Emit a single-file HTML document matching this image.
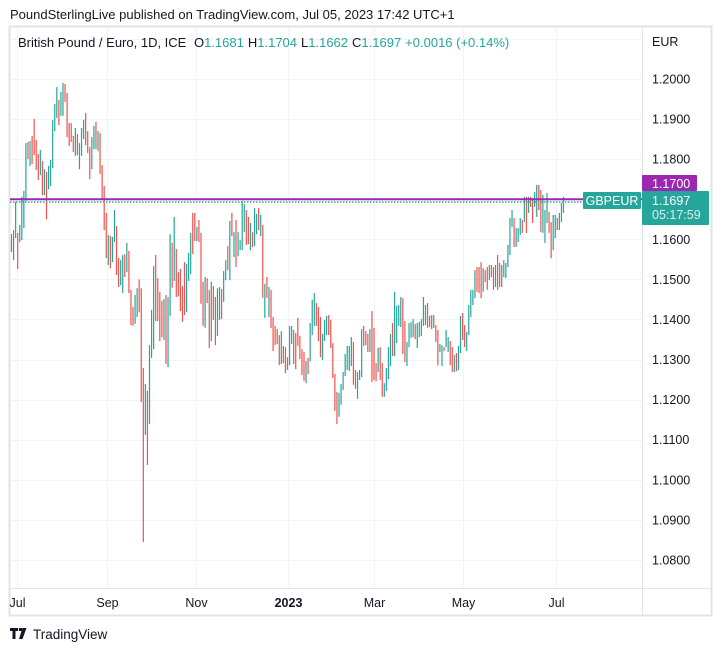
<!DOCTYPE html>
<html><head><meta charset="utf-8"><style>
html,body{margin:0;padding:0;background:#fff;}
body{width:722px;height:651px;overflow:hidden;font-family:"Liberation Sans",sans-serif;}
svg text{font-family:"Liberation Sans",sans-serif;}
</style></head><body>
<svg id="chart" width="722" height="651" viewBox="0 0 722 651" xmlns="http://www.w3.org/2000/svg">
<text x="10" y="19" font-size="13" fill="#131722">PoundSterlingLive published on TradingView.com, Jul 05, 2023 17:42 UTC+1</text>
<rect x="9.5" y="26.5" width="702" height="589" fill="none" stroke="#e0e3eb" stroke-width="2"/>
<g id="grid"></g>
<line x1="10" y1="588.5" x2="711" y2="588.5" stroke="#e0e3eb" stroke-width="1"/>
<line x1="642.5" y1="27" x2="642.5" y2="615" stroke="#e0e3eb" stroke-width="1"/>
<g id="bars"></g>
<g id="yticks"></g>
<g id="xticks"></g>
<text x="652" y="46" font-size="12.5" fill="#131722">EUR</text>
<text x="18" y="47" font-size="13" fill="#131722">British Pound / Euro, 1D, ICE <tspan dx="4">O</tspan><tspan fill="#26a69a">1.1681</tspan><tspan dx="4">H</tspan><tspan fill="#26a69a">1.1704</tspan><tspan dx="4">L</tspan><tspan fill="#26a69a">1.1662</tspan><tspan dx="4">C</tspan><tspan fill="#26a69a">1.1697</tspan><tspan dx="4" fill="#26a69a">+0.0016 (+0.14%)</tspan></text>
<g>
<path d="M10 628h8v3h-2.5v8h-3v-8H10z M19 628h3v3h-3z M22.5 628h4l-4 11h-3.5z" fill="#131722"/>
<text x="33" y="639" font-size="13.5" fill="#131722">TradingView</text>
</g>
</svg>
<script>
const H=[1.1613,1.1623,1.1693,1.1616,1.1636,1.1706,1.1721,1.1840,1.1843,1.1845,1.1858,1.1900,1.1848,1.1813,1.1823,1.1795,1.1775,1.1768,1.1783,1.1798,1.1898,1.1938,1.1980,1.1948,1.1968,1.1990,1.1988,1.1965,1.1890,1.1890,1.1858,1.1878,1.1863,1.1840,1.1878,1.1898,1.1915,1.1870,1.1830,1.1855,1.1883,1.1893,1.1870,1.1865,1.1785,1.1733,1.1666,1.1611,1.1608,1.1606,1.1673,1.1633,1.1553,1.1548,1.1561,1.1563,1.1591,1.1571,1.1474,1.1431,1.1461,1.1478,1.1500,1.1478,1.1279,1.1239,1.1222,1.1336,1.1424,1.1533,1.1561,1.1503,1.1469,1.1446,1.1451,1.1461,
1.1456,1.1613,1.1591,1.1656,1.1576,1.1518,1.1526,1.1483,1.1543,1.1538,1.1566,1.1616,1.1666,1.1666,1.1631,1.1648,1.1616,1.1494,1.1506,1.1503,1.1474,1.1494,1.1483,1.1456,1.1478,1.1481,1.1476,1.1521,1.1548,1.1583,1.1646,1.1666,1.1618,1.1648,1.1618,1.1598,1.1696,1.1688,1.1673,1.1656,1.1641,1.1618,1.1678,1.1663,1.1678,1.1661,1.1636,1.1489,1.1506,1.1481,1.1474,1.1406,1.1384,1.1376,1.1361,1.1371,1.1334,1.1331,1.1306,1.1384,1.1384,1.1374,1.1366,1.1404,1.1359,1.1326,1.1319,1.1296,1.1304,1.1391,1.1449,1.1466,1.1441,
1.1431,1.1406,1.1364,1.1399,1.1409,1.1411,1.1399,1.1341,1.1264,1.1219,1.1217,1.1239,1.1269,1.1314,1.1334,1.1334,1.1356,1.1344,1.1274,1.1269,1.1274,1.1376,1.1384,1.1371,1.1364,1.1376,1.1421,1.1379,1.1291,1.1329,1.1331,1.1291,1.1241,1.1279,1.1331,1.1364,1.1391,1.1469,1.1434,1.1436,1.1456,1.1453,1.1396,1.1344,1.1391,1.1394,1.1401,1.1389,1.1391,1.1394,1.1401,1.1456,1.1436,1.1441,1.1409,1.1411,1.1411,1.1386,1.1374,1.1339,1.1336,1.1331,1.1374,1.1356,1.1346,1.1331,1.1311,1.1316,1.1334,1.1409,1.1416,1.1386,1.1369,
1.1436,1.1474,1.1474,1.1523,1.1531,1.1531,1.1543,1.1528,1.1523,1.1531,1.1536,1.1536,1.1531,1.1536,1.1561,1.1541,1.1536,1.1548,1.1541,1.1586,1.1653,1.1673,1.1653,1.1628,1.1628,1.1653,1.1648,1.1706,1.1706,1.1706,1.1706,1.1703,1.1718,1.1736,1.1736,1.1723,1.1711,1.1673,1.1716,1.1668,1.1643,1.1661,1.1661,1.1653,1.1666,1.1691,1.1706];
const L=[1.1568,1.1548,1.1603,1.1526,1.1593,1.1598,1.1628,1.1696,1.1800,1.1783,1.1788,1.1810,1.1773,1.1748,1.1760,1.1710,1.1710,1.1650,1.1725,1.1733,1.1778,1.1870,1.1903,1.1885,1.1908,1.1908,1.1943,1.1855,1.1833,1.1843,1.1818,1.1808,1.1810,1.1775,1.1808,1.1850,1.1835,1.1815,1.1750,1.1775,1.1825,1.1825,1.1820,1.1763,1.1698,1.1623,1.1553,1.1536,1.1528,1.1543,1.1593,1.1511,1.1481,1.1486,1.1466,1.1506,1.1518,1.1466,1.1386,1.1384,1.1389,1.1406,1.1418,1.1194,1.0845,1.1112,1.1037,1.1139,1.1304,1.1326,1.1396,1.1396,1.1346,1.1356,1.1349,1.1289,
1.1281,1.1409,1.1479,1.1496,1.1456,1.1458,1.1421,1.1394,1.1411,1.1418,1.1496,1.1513,1.1563,1.1596,1.1596,1.1593,1.1439,1.1384,1.1379,1.1441,1.1329,1.1346,1.1399,1.1336,1.1359,1.1399,1.1401,1.1444,1.1498,1.1523,1.1498,1.1608,1.1556,1.1531,1.1558,1.1573,1.1573,1.1618,1.1586,1.1588,1.1573,1.1581,1.1583,1.1613,1.1623,1.1608,1.1454,1.1404,1.1454,1.1406,1.1379,1.1321,1.1336,1.1339,1.1286,1.1289,1.1291,1.1266,1.1274,1.1286,1.1339,1.1289,1.1276,1.1334,1.1301,1.1261,1.1247,1.1241,1.1264,1.1296,1.1361,1.1384,1.1384,
1.1346,1.1306,1.1299,1.1346,1.1361,1.1361,1.1329,1.1254,1.1172,1.1139,1.1157,1.1187,1.1224,1.1259,1.1274,1.1271,1.1284,1.1237,1.1227,1.1202,1.1249,1.1256,1.1334,1.1336,1.1319,1.1319,1.1244,1.1249,1.1246,1.1269,1.1249,1.1207,1.1207,1.1222,1.1251,1.1284,1.1309,1.1309,1.1341,1.1384,1.1381,1.1314,1.1294,1.1284,1.1331,1.1354,1.1356,1.1351,1.1329,1.1356,1.1359,1.1384,1.1386,1.1379,1.1381,1.1376,1.1379,1.1344,1.1286,1.1319,1.1284,1.1321,1.1331,1.1319,1.1286,1.1269,1.1269,1.1271,1.1274,1.1316,1.1349,1.1331,1.1321,
1.1361,1.1406,1.1436,1.1453,1.1469,1.1466,1.1453,1.1469,1.1493,1.1474,1.1498,1.1506,1.1474,1.1481,1.1474,1.1481,1.1481,1.1506,1.1503,1.1531,1.1561,1.1631,1.1581,1.1581,1.1593,1.1611,1.1616,1.1643,1.1616,1.1666,1.1681,1.1641,1.1681,1.1656,1.1673,1.1618,1.1616,1.1591,1.1641,1.1616,1.1553,1.1573,1.1603,1.1623,1.1623,1.1643,1.1666];
const DIR=[-1,1,1,-1,1,1,1,1,-1,1,-1,-1,-1,-1,1,-1,1,-1,1,1,1,1,1,-1,1,1,-1,-1,-1,-1,-1,1,-1,1,1,1,-1,-1,-1,1,1,-1,1,-1,-1,-1,-1,1,-1,1,1,-1,-1,1,1,-1,1,-1,-1,-1,1,1,-1,-1,-1,1,-1,1,1,1,-1,-1,-1,-1,1,-1,
1,1,-1,1,-1,-1,-1,-1,-1,1,1,1,-1,-1,1,-1,-1,-1,1,-1,-1,1,-1,-1,1,1,-1,1,1,-1,1,-1,1,-1,1,1,1,1,-1,-1,1,-1,1,1,-1,1,-1,1,-1,1,-1,-1,-1,-1,-1,1,-1,-1,-1,1,1,-1,-1,-1,-1,-1,-1,1,-1,1,1,1,-1,
-1,-1,1,1,1,-1,-1,-1,-1,-1,1,1,1,1,1,1,1,-1,-1,1,1,1,-1,-1,-1,1,-1,-1,-1,1,-1,-1,1,1,1,1,-1,1,1,1,1,-1,-1,1,1,1,1,-1,1,1,1,1,1,-1,-1,1,-1,-1,-1,1,1,-1,1,1,-1,-1,1,-1,1,1,-1,-1,1,
1,1,1,1,-1,-1,-1,1,-1,-1,1,-1,-1,1,-1,-1,1,1,1,1,1,1,-1,1,1,1,-1,1,-1,1,-1,-1,1,1,-1,-1,1,1,1,-1,-1,1,1,-1,1,1,1];
const Y_TICKS=[1.08,1.09,1.10,1.11,1.12,1.13,1.14,1.15,1.16,1.17,1.18,1.19,1.20];
const GRID_EXTRA=[1.21];
const X_LABELS=["Jul","Sep","Nov","2023","Mar","May","Jul"];
const X_LABEL_IDX=[2.7,46.6,89.6,134,176,219,264.5];
const LAST_CLOSE=1.1697, ALERT_LEVEL=1.1700;

const NS="http://www.w3.org/2000/svg";
const yS=v=>79+(1.2-v)*4008;
const N=Math.min(H.length,L.length,DIR.length);
const X0=11.5,X1=563.5;
const xS=i=>X0+i*(X1-X0)/(N-1);
function mk(tag,attrs,parent){const e=document.createElementNS(NS,tag);for(const k in attrs)e.setAttribute(k,attrs[k]);parent.appendChild(e);return e;}
const grid=document.getElementById('grid'),bars=document.getElementById('bars'),yt=document.getElementById('yticks'),xt=document.getElementById('xticks'),svg=document.getElementById('chart');
Y_TICKS.concat(GRID_EXTRA).forEach(v=>{
  const l=mk('line',{x1:10,x2:642,y1:Math.round(yS(v))+0.5,y2:Math.round(yS(v))+0.5,stroke:'#f0f3fa','stroke-width':1},grid);
  
  
});
X_LABEL_IDX.forEach((idx,k)=>{
  const x=Math.round(xS(idx))+0.5;
  const l=mk('line',{x1:x,x2:x,y1:27,y2:588,stroke:'#f0f3fa','stroke-width':1},grid);
  
  
  const t=mk('text',{x:x,y:607,'font-size':12.5,fill:'#131722','text-anchor':'middle','font-weight':X_LABELS[k]==='2023'?'bold':'normal'},xt);
  t.textContent=X_LABELS[k];
  
  
});
Y_TICKS.forEach(v=>{
  const t=mk('text',{x:652,y:yS(v)+4.5,'font-size':12.5,fill:'#131722'},yt);
  t.textContent=v.toFixed(4);
  
  
});
for(let i=0;i<N;i++){
  const x=xS(i);
  const r=mk('rect',{x:(x-0.6).toFixed(2),y:yS(H[i]).toFixed(2),width:1.2,height:Math.max(1,yS(L[i])-yS(H[i])).toFixed(2),fill:DIR[i]>0?'#26a69a':'#ef5350'},bars);
  
  
}
const ya=yS(ALERT_LEVEL), yc=yS(LAST_CLOSE);
const al=mk('line',{x1:10,x2:642,y1:ya,y2:ya,stroke:'#9c27b0','stroke-width':2},svg);


const cl=mk('line',{x1:10,x2:583,y1:yc+1.5,y2:yc+1.5,stroke:'#26a69a','stroke-width':1.5,'stroke-dasharray':'1.5 1.5'},svg);


const g1=mk('g',{},svg);


mk('rect',{x:583,y:192,width:58,height:17,fill:'#26a69a',rx:1},g1);
const s1=mk('text',{x:612,y:205,'font-size':12.5,fill:'#fff','text-anchor':'middle'},g1);s1.textContent='GBPEUR';
const g2=mk('g',{},svg);


mk('rect',{x:642,y:175,width:55,height:16,fill:'#9c27b0',rx:1},g2);
const s2=mk('text',{x:652,y:188,'font-size':12.5,fill:'#fff'},g2);s2.textContent=ALERT_LEVEL.toFixed(4);
const g3=mk('g',{},svg);


mk('rect',{x:642,y:191,width:67,height:34,fill:'#26a69a',rx:1},g3);
const s3=mk('text',{x:652,y:205,'font-size':12.5,fill:'#fff'},g3);s3.textContent=LAST_CLOSE.toFixed(4);
const s4=mk('text',{x:652,y:219,'font-size':12.5,fill:'#d8f0ec'},g3);s4.textContent='05:17:59';
</script>
</body></html>
